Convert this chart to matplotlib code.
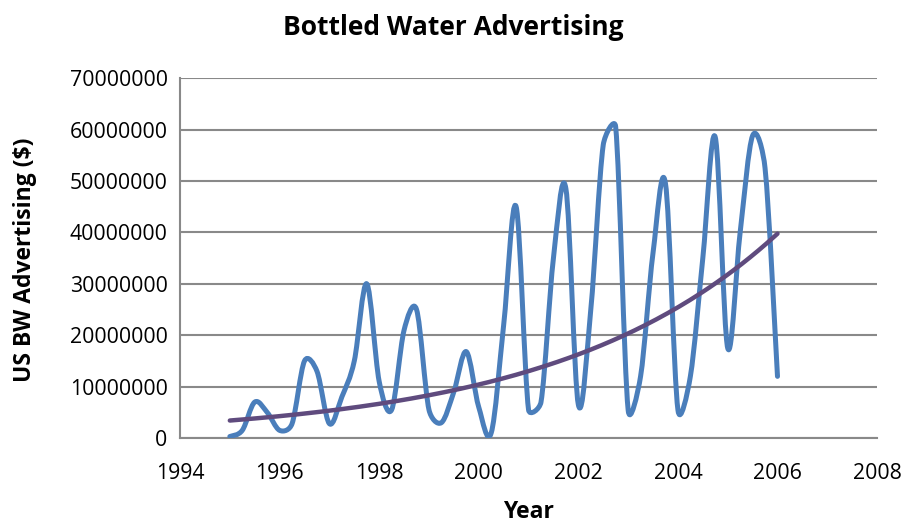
import numpy as np
import matplotlib
matplotlib.use('Agg')
import matplotlib.pyplot as plt
from matplotlib.path import Path
from matplotlib.patches import PathPatch

# ---- データ (四半期ごと) ----
years = np.arange(1995.0, 2006.01, 0.25)
adv = [0.3e6, 1.5e6, 7.0e6, 5.0e6,
       1.5e6, 2.8e6, 15.0e6, 13.0e6,
       2.8e6, 8.0e6, 15.0e6, 30.0e6,
       11.0e6, 5.5e6, 21.0e6, 25.0e6,
       5.5e6, 3.0e6, 9.0e6, 16.8e6,
       6.0e6, 1.0e6, 22.0e6, 45.0e6,
       5.5e6, 7.0e6, 35.0e6, 48.5e6,
       6.5e6, 25.0e6, 57.0e6, 60.5e6,
       5.5e6, 12.0e6, 36.0e6, 49.5e6,
       5.5e6, 12.0e6, 35.0e6, 58.5e6,
       17.5e6, 40.0e6, 58.8e6, 52.5e6,
       12.0e6]

yticks = np.arange(0, 70000001, 10000000)
xticks = np.arange(1994, 2009, 2)

plt.rcParams['font.family'] = ['Open Sans', 'DejaVu Sans']

fig = plt.figure(figsize=(9.07, 5.24), dpi=100)
ax = fig.add_axes([0.1985, 0.164, 0.7685, 0.687])
ax.set_xlim(1994, 2008)
ax.set_ylim(0, 70000000)

# Excel風のスムージング線 (ベジェ, 制御点の長さは画面上で区間の半分まで)
x = np.asarray(years)
y = np.asarray(adv)
sx = 697.0 / 14          # px / 年
sy = 360.0 / 70e6        # px / $
n = len(x)
P = np.column_stack([x * sx, y * sy])


def ctrl(i, j):
    # 点 i から点 j へ向かう区間の制御点
    a = P[max(i - 1, 0)] if j > i else P[min(i + 1, n - 1)]
    b = P[min(i + 1, n - 1)] if j > i else P[max(i - 1, 0)]
    t = (b - a) / 6.0
    lim = 0.5 * np.hypot(*(P[j] - P[i]))
    L = np.hypot(*t)
    if L > lim:
        t = t * lim / L
    c = P[i] + t
    return (c[0] / sx, c[1] / sy)


verts = [(x[0], y[0])]
codes = [Path.MOVETO]
for i in range(n - 1):
    verts += [ctrl(i, i + 1), ctrl(i + 1, i), (x[i + 1], y[i + 1])]
    codes += [Path.CURVE4] * 3
ax.add_patch(PathPatch(Path(verts, codes), fill=False, edgecolor='#4A7EBB',
                       lw=3.6, capstyle='round', joinstyle='round', zorder=3))

# 指数近似 (Excelのトレンドライン相当)
b, a = np.polyfit(x, np.log(y), 1)
xt = np.linspace(x[0], x[-1], 200)
ax.plot(xt, np.exp(a + b * xt), color='#5F4B7E', lw=3.2,
        solid_capstyle='round', zorder=4)

ax.set_xticks(xticks)
ax.set_yticks(yticks)
ax.set_xticklabels([str(v) for v in xticks])
ax.set_yticklabels([str(v) for v in yticks])
ax.tick_params(axis='y', length=0, labelsize=15.3, pad=9)
ax.tick_params(axis='x', length=0, labelsize=15.3, pad=18)
ax.grid(axis='y', color='#898989', lw=1.5)
ax.set_axisbelow(True)
for s in ['top', 'right']:
    ax.spines[s].set_visible(False)
for s in ['left', 'bottom']:
    ax.spines[s].set_color('#898989')
    ax.spines[s].set_linewidth(1.5)

fig.suptitle('Bottled Water Advertising', fontsize=19, fontweight='bold',
             x=0.5, y=0.9466, va='center')
ax.set_xlabel('Year', fontsize=16.5, fontweight='bold', va='center')
ax.xaxis.set_label_coords(0.5, -0.206)
ax.set_ylabel('US BW Advertising ($)', fontsize=16.5, fontweight='bold', va='center')
ax.yaxis.set_label_coords(-0.222, 0.494)

fig.savefig('out.png', dpi=100)
